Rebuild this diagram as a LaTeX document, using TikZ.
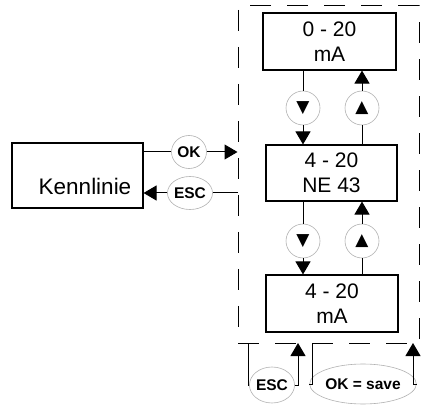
\documentclass[tikz,border=0pt]{standalone}
\usepackage{fontspec}
\setmainfont{Liberation Sans}
\newfontfamily\symfont{DejaVu Sans}
\usetikzlibrary{arrows.meta,shapes.geometric}

\begin{document}
\begin{tikzpicture}[x=1pt, y=-1pt, line width=1pt,
    >={Triangle[length=13pt,width=15pt]},
    box/.style={draw, line width=1.1pt, align=center, font=\fontsize{21}{24.5}\selectfont},
    key/.style={ellipse, draw=gray!60, line width=0.6pt, fill=white, inner sep=0pt,
      font=\fontsize{15.5}{16}\selectfont\bfseries},
    arr/.style={key, minimum width=34pt, minimum height=34pt, font=\symfont\fontsize{17}{17}\selectfont}]
  \useasboundingbox (0,0) rectangle (426,406);
  % dashed frame
  \node[draw, dash pattern=on 21pt off 16pt, minimum width=181pt, minimum height=337pt] (frame) at (328.5,174.5) {};
  % boxes
  \node[box, minimum width=133pt, minimum height=57pt] (r020) at (329.5,41.5) {0 - 20\\mA};
  \node[box, minimum width=131pt, minimum height=56pt] (r420ne) at (331.5,173) {4 - 20\\NE 43};
  \node[box, minimum width=132pt, minimum height=57pt] (r420) at (332,303.5) {4 - 20\\mA};
  \node[box, minimum width=131pt, minimum height=65pt] (kenn) at (77.5,175.5) {};
  \node[anchor=base, font=\fontsize{22.5}{24}\selectfont] (kenntext) at (85,195) {Kennlinie};
  % keys
  \node[arr] (dn1) at (303,108) {▼};
  \node[arr] (up1) at (362,108) {▲};
  \node[arr] (dn2) at (303,241) {▼};
  \node[arr] (up2) at (362,241) {▲};
  \node[key, minimum width=35pt, minimum height=33pt] (ok) at (189,152) {OK};
  \node[key, minimum width=37pt, minimum height=33pt] (esc) at (190,193) {ESC};
  \node[key, minimum width=36pt, minimum height=36pt] (escb) at (272,385) {ESC};
  \node[key, minimum width=86pt, minimum height=40pt] (save) at (363,384) {OK = save};
  \coordinate (escout) at (248,343);
  \coordinate (escin) at (298,343);
  \coordinate (saveout) at (312,343);
  \coordinate (savein) at (413,343);
  % connectors
  \draw (r020.south -| dn1) -- (dn1);
  \draw[->] (dn1) -- (r420ne.north -| dn1);
  \draw (r420ne.north -| up1) -- (up1);
  \draw[->] (up1) -- (r020.south -| up1);
  \draw (r420ne.south -| dn2) -- (dn2);
  \draw[->] (dn2) -- (r420.north -| dn2);
  \draw (r420.north -| up2) -- (up2);
  \draw[->] (up2) -- (r420ne.south -| up2);
  \draw (kenn.east |- ok) -- (ok);
  \draw[->] (ok) -- (ok -| frame.west);
  \draw (esc -| frame.west) -- (esc);
  \draw[->] (esc) -- (esc -| kenn.east);
  \draw (escout) |- (escb);
  \draw[->] (escb) -| (escin);
  \draw (saveout) |- (save);
  \draw[->] (save) -| (savein);
\end{tikzpicture}
\end{document}
